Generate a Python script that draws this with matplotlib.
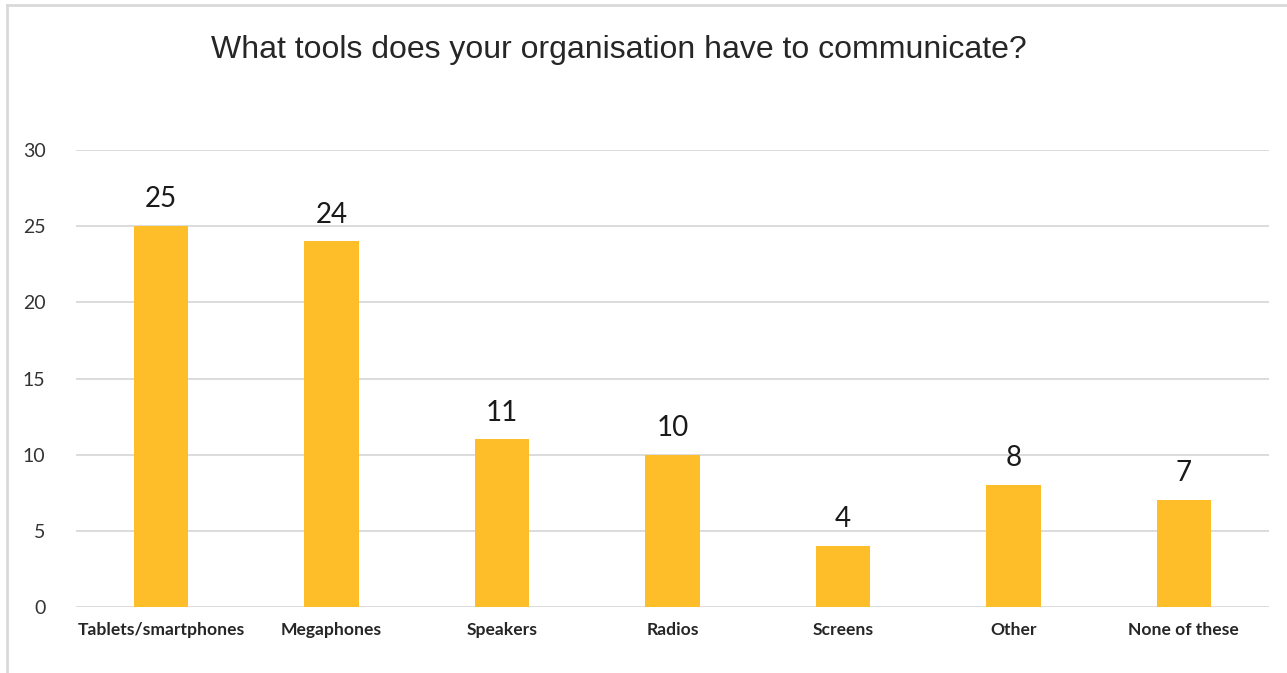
import matplotlib.pyplot as plt
from matplotlib.lines import Line2D

categories = ['Tablets/smartphones', 'Megaphones', 'Speakers', 'Radios',
              'Screens', 'Other', 'None of these']
counts = [25, 24, 11, 10, 4, 8, 7]
yticks = [0, 5, 10, 15, 20, 25, 30]

bar_color = '#FDBE2A'
grid_color = '#D9D9D9'

fig = plt.figure(figsize=(12.87, 6.73), dpi=100)
ax = fig.add_axes([76/1287, 1 - 607/673, (1269 - 76)/1287, (607 - 150)/673])

x = list(range(len(categories)))
bars = ax.bar(x, counts, width=0.32, color=bar_color, zorder=3)

ax.set_xlim(-0.5, len(categories) - 0.5)
ax.set_ylim(0, 30)
ax.set_yticks(yticks)
ax.set_yticklabels([str(v) for v in yticks], family='Lato', fontsize=14, color='#333333')
ax.set_xticks(x)
ax.set_xticklabels(categories, family='Lato', fontweight='bold', fontsize=12.6, color='#262626')
ax.tick_params(axis='both', length=0)
ax.tick_params(axis='x', pad=11)
ax.tick_params(axis='y', pad=22)
ax.yaxis.grid(True, color=grid_color, linewidth=1.3, zorder=0)
for s in ax.spines.values():
    s.set_visible(False)

# value labels above each bar
for xi, v in zip(x, counts):
    ax.annotate(str(v), (xi, v), xytext=(0, 10), textcoords='offset points',
                ha='center', va='bottom', family='Lato', fontsize=20, color='#1a1a1a')

fig.text(619/1287, 1 - 50/673, 'What tools does your organisation have to communicate?',
         ha='center', va='center', family='Liberation Sans', fontsize=23, color='#262626')

# chart frame (top and left edges)
fig.add_artist(Line2D([7/1287, 1], [1 - 5/673, 1 - 5/673], color=grid_color, linewidth=2))
fig.add_artist(Line2D([7/1287, 7/1287], [0, 1 - 5/673], color=grid_color, linewidth=2))

fig.savefig('out.png', dpi=100)
